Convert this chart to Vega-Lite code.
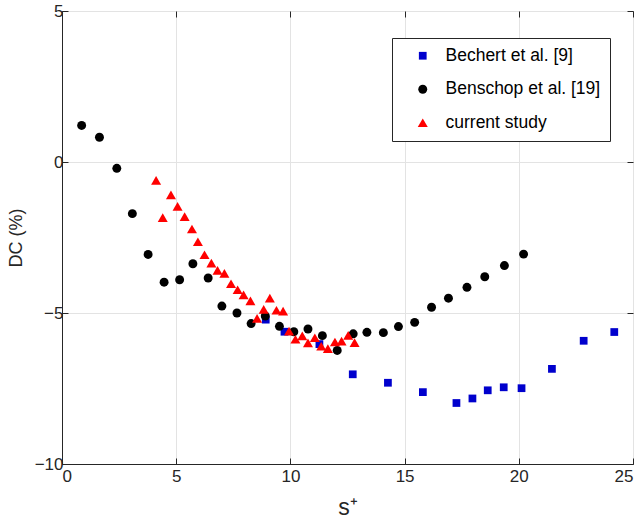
{
  "$schema": "https://vega.github.io/schema/vega-lite/v6.json",
  "width": 571,
  "height": 453,
  "autosize": {"type": "none"},
  "padding": {"left": 62, "top": 11, "right": 11, "bottom": 58},
  "background": "white",
  "config": {
    "font": "Liberation Sans",
    "view": {"stroke": "#262626", "strokeWidth": 1},
    "axis": {
      "domainColor": "#262626",
      "tickColor": "#262626",
      "tickSize": -6,
      "labelFont": "Liberation Sans",
      "labelFontSize": 17,
      "labelColor": "#262626",
      "gridColor": "#e3e3e3",
      "titleFont": "Liberation Sans",
      "titleFontWeight": "normal",
      "titleColor": "#262626"
    },
    "legend": {
      "orient": "none",
      "legendX": 330,
      "legendY": 27,
      "strokeColor": "#262626",
      "fillColor": "white",
      "padding": 9,
      "symbolOffset": 13,
      "labelOffset": 14,
      "labelFont": "Liberation Sans",
      "labelFontSize": 17.5,
      "labelColor": "#000000",
      "rowPadding": 14.5,
      "cornerRadius": 0,
      "symbolStrokeWidth": 0
    }
  },
  "data": {
    "values": [
      {"series": "Bechert et al. [9]", "s": 8.92, "DC": -5.22},
      {"series": "Bechert et al. [9]", "s": 9.74, "DC": -5.62},
      {"series": "Bechert et al. [9]", "s": 11.27, "DC": -6.03},
      {"series": "Bechert et al. [9]", "s": 12.73, "DC": -7.03},
      {"series": "Bechert et al. [9]", "s": 14.27, "DC": -7.31},
      {"series": "Bechert et al. [9]", "s": 15.8, "DC": -7.62},
      {"series": "Bechert et al. [9]", "s": 17.27, "DC": -7.98},
      {"series": "Bechert et al. [9]", "s": 17.97, "DC": -7.83},
      {"series": "Bechert et al. [9]", "s": 18.64, "DC": -7.56},
      {"series": "Bechert et al. [9]", "s": 19.34, "DC": -7.46},
      {"series": "Bechert et al. [9]", "s": 20.12, "DC": -7.49},
      {"series": "Bechert et al. [9]", "s": 21.45, "DC": -6.85},
      {"series": "Bechert et al. [9]", "s": 22.84, "DC": -5.92},
      {"series": "Bechert et al. [9]", "s": 24.18, "DC": -5.63},
      {"series": "Benschop et al. [19]", "s": 0.86, "DC": 1.21},
      {"series": "Benschop et al. [19]", "s": 1.64, "DC": 0.82},
      {"series": "Benschop et al. [19]", "s": 2.4, "DC": -0.21},
      {"series": "Benschop et al. [19]", "s": 3.08, "DC": -1.71},
      {"series": "Benschop et al. [19]", "s": 3.77, "DC": -3.06},
      {"series": "Benschop et al. [19]", "s": 4.47, "DC": -3.98},
      {"series": "Benschop et al. [19]", "s": 5.15, "DC": -3.9},
      {"series": "Benschop et al. [19]", "s": 5.73, "DC": -3.37},
      {"series": "Benschop et al. [19]", "s": 6.4, "DC": -3.84},
      {"series": "Benschop et al. [19]", "s": 7.0, "DC": -4.77},
      {"series": "Benschop et al. [19]", "s": 7.66, "DC": -5.0},
      {"series": "Benschop et al. [19]", "s": 8.28, "DC": -5.35},
      {"series": "Benschop et al. [19]", "s": 8.9, "DC": -5.1},
      {"series": "Benschop et al. [19]", "s": 9.52, "DC": -5.44},
      {"series": "Benschop et al. [19]", "s": 10.15, "DC": -5.62},
      {"series": "Benschop et al. [19]", "s": 10.77, "DC": -5.53},
      {"series": "Benschop et al. [19]", "s": 11.4, "DC": -5.75},
      {"series": "Benschop et al. [19]", "s": 12.05, "DC": -6.24},
      {"series": "Benschop et al. [19]", "s": 12.75, "DC": -5.69},
      {"series": "Benschop et al. [19]", "s": 13.35, "DC": -5.64},
      {"series": "Benschop et al. [19]", "s": 14.07, "DC": -5.65},
      {"series": "Benschop et al. [19]", "s": 14.73, "DC": -5.45},
      {"series": "Benschop et al. [19]", "s": 15.44, "DC": -5.31},
      {"series": "Benschop et al. [19]", "s": 16.18, "DC": -4.81},
      {"series": "Benschop et al. [19]", "s": 16.92, "DC": -4.51},
      {"series": "Benschop et al. [19]", "s": 17.73, "DC": -4.15},
      {"series": "Benschop et al. [19]", "s": 18.51, "DC": -3.8},
      {"series": "Benschop et al. [19]", "s": 19.37, "DC": -3.43},
      {"series": "Benschop et al. [19]", "s": 20.21, "DC": -3.05},
      {"series": "current study", "s": 4.12, "DC": -0.61},
      {"series": "current study", "s": 4.41, "DC": -1.84},
      {"series": "current study", "s": 4.77, "DC": -1.09},
      {"series": "current study", "s": 5.06, "DC": -1.47},
      {"series": "current study", "s": 5.37, "DC": -1.81},
      {"series": "current study", "s": 5.69, "DC": -2.22},
      {"series": "current study", "s": 5.95, "DC": -2.64},
      {"series": "current study", "s": 6.24, "DC": -3.07},
      {"series": "current study", "s": 6.54, "DC": -3.35},
      {"series": "current study", "s": 6.81, "DC": -3.59},
      {"series": "current study", "s": 7.11, "DC": -3.69},
      {"series": "current study", "s": 7.4, "DC": -4.03},
      {"series": "current study", "s": 7.69, "DC": -4.23},
      {"series": "current study", "s": 7.95, "DC": -4.4},
      {"series": "current study", "s": 8.25, "DC": -4.6},
      {"series": "current study", "s": 8.54, "DC": -5.18},
      {"series": "current study", "s": 8.83, "DC": -4.88},
      {"series": "current study", "s": 9.1, "DC": -4.51},
      {"series": "current study", "s": 9.39, "DC": -4.91},
      {"series": "current study", "s": 9.68, "DC": -4.94},
      {"series": "current study", "s": 9.94, "DC": -5.6},
      {"series": "current study", "s": 10.22, "DC": -5.87},
      {"series": "current study", "s": 10.52, "DC": -5.76},
      {"series": "current study", "s": 10.77, "DC": -5.99},
      {"series": "current study", "s": 11.07, "DC": -5.82},
      {"series": "current study", "s": 11.35, "DC": -6.1},
      {"series": "current study", "s": 11.64, "DC": -6.18},
      {"series": "current study", "s": 11.95, "DC": -5.96},
      {"series": "current study", "s": 12.24, "DC": -5.93},
      {"series": "current study", "s": 12.53, "DC": -5.74},
      {"series": "current study", "s": 12.81, "DC": -5.98}
    ]
  },
  "layer": [
    {
      "mark": {"type": "point", "filled": true, "opacity": 1, "strokeWidth": 0},
      "encoding": {
        "x": {
          "field": "s", "type": "quantitative",
          "scale": {"domain": [0, 25], "nice": false, "zero": false},
          "axis": {"values": [0, 5, 10, 15, 20, 25], "title": "s⁺", "titleFontSize": 23, "labelPadding": 10, "titlePadding": 12}
        },
        "y": {
          "field": "DC", "type": "quantitative",
          "scale": {"domain": [-10, 5], "nice": false, "zero": false},
          "axis": {"values": [-10, -5, 0, 5], "title": "DC (%)", "titleFontSize": 18, "labelPadding": 5, "titlePadding": 9}
        },
        "color": {
          "field": "series", "type": "nominal",
          "scale": {"domain": ["Bechert et al. [9]", "Benschop et al. [19]", "current study"], "range": ["#0000cd", "#000000", "#ff0000"]},
          "legend": {"title": null}
        },
        "shape": {
          "field": "series", "type": "nominal",
          "scale": {"domain": ["Bechert et al. [9]", "Benschop et al. [19]", "current study"], "range": ["square", "circle", "triangle-up"]},
          "legend": {"title": null}
        },
        "size": {
          "field": "series", "type": "nominal",
          "scale": {"domain": ["Bechert et al. [9]", "Benschop et al. [19]", "current study"], "range": [60, 100, 125]},
          "legend": {"title": null}
        }
      }
    },
    {
      "mark": {"type": "point", "opacity": 0},
      "encoding": {
        "x": {
          "field": "s", "type": "quantitative",
          "axis": {"orient": "top", "values": [0, 5, 10, 15, 20, 25], "labels": false, "grid": false, "domain": false, "title": null}
        },
        "y": {
          "field": "DC", "type": "quantitative",
          "axis": {"orient": "right", "values": [-10, -5, 0, 5], "labels": false, "grid": false, "domain": false, "title": null}
        }
      }
    }
  ],
  "resolve": {"axis": {"x": "independent", "y": "independent"}}
}
